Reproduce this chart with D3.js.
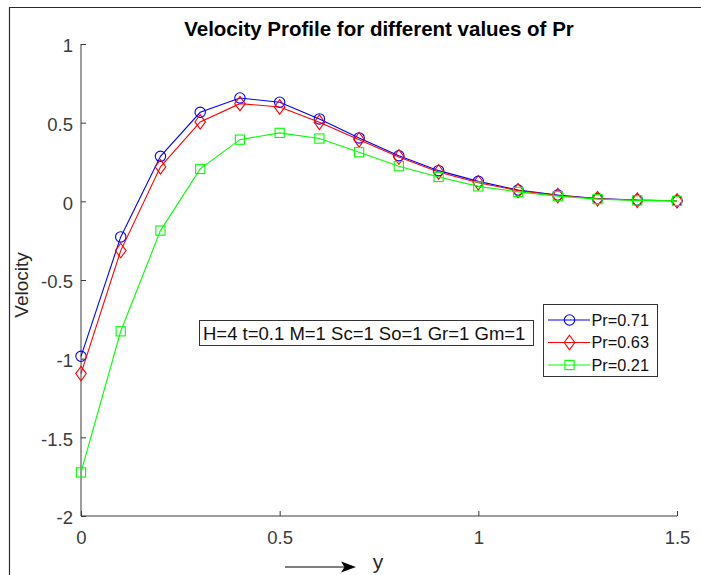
<!DOCTYPE html>
<html>
<head>
<meta charset="utf-8">
<script src="https://cdn.jsdelivr.net/npm/d3@7"></script>
<style>
  html, body { margin: 0; padding: 0; background: #fff; }
  svg { display: block; font-family: Arial, "Liberation Sans", Helvetica, sans-serif; }
</style>
</head>
<body>
<svg id="chart" width="701" height="575"></svg>
<script>
// Distance from the plate (y) at which the velocity is sampled
const yPos = [0, 0.1, 0.2, 0.3, 0.4, 0.5, 0.6, 0.7, 0.8, 0.9, 1.0, 1.1, 1.2, 1.3, 1.4, 1.5];

// Velocity for each Prandtl number
const velPr071 = [-0.985, -0.226, 0.286, 0.566, 0.657, 0.630, 0.524, 0.403, 0.290, 0.195, 0.127, 0.072, 0.040, 0.018, 0.008, 0.004];
const velPr063 = [-1.095, -0.313, 0.219, 0.505, 0.621, 0.600, 0.503, 0.392, 0.282, 0.187, 0.118, 0.068, 0.037, 0.016, 0.007, 0.003];
const velPr021 = [-1.723, -0.826, -0.186, 0.206, 0.392, 0.435, 0.399, 0.312, 0.223, 0.155, 0.095, 0.060, 0.033, 0.014, 0.006, 0.003];

const seriesNames = ["Pr=0.71", "Pr=0.63", "Pr=0.21"];
const xTicks = [0, 0.5, 1, 1.5];
const yTicks = [-2, -1.5, -1, -0.5, 0, 0.5, 1];
const titleText = "Velocity Profile for different values of Pr";
const paramText = "H=4 t=0.1 M=1 Sc=1 So=1 Gr=1 Gm=1";

const series = [
  { name: seriesNames[0], values: velPr071, color: "#0000ff", marker: "circle" },
  { name: seriesNames[1], values: velPr063, color: "#ff0000", marker: "diamond" },
  { name: seriesNames[2], values: velPr021, color: "#00ff00", marker: "square" }
];

const svg = d3.select("#chart");
const axisColor = "#3a3a3a";
const tickTextColor = "#3c3c3c";

// Outer figure frame (top and left edges visible)
svg.append("path")
  .attr("d", "M9.5,575 L9.5,7.5 L701,7.5")
  .attr("fill", "none").attr("stroke", "#2a2a2a").attr("stroke-width", 1.2);

const x = d3.scaleLinear().domain([0, 1.5]).range([81, 677]);
const y = d3.scaleLinear().domain([-2, 1]).range([516, 44]);

// Axes with inward ticks
const xAxis = d3.axisBottom(x).tickValues(xTicks).tickSize(-5).tickPadding(0)
  .tickFormat(d3.format("~g"));
const yAxis = d3.axisLeft(y).tickValues(yTicks).tickSize(-5).tickPadding(0)
  .tickFormat(d => d3.format("~g")(d).replace("−", "-"));

const gx = svg.append("g").attr("transform", `translate(0,${y(-2)})`).call(xAxis);
gx.select(".domain").attr("d", `M${x(0)},0H${x(1.5)}`);
gx.selectAll("line").attr("stroke", axisColor);
gx.select(".domain").attr("stroke", axisColor);
gx.selectAll("text").attr("font-size", 18.5).attr("fill", tickTextColor)
  .attr("font-family", "Arial, 'Liberation Sans', sans-serif")
  .attr("y", 28).attr("dy", 0);

const gy = svg.append("g").attr("transform", `translate(${x(0)},0)`).call(yAxis);
gy.select(".domain").attr("d", `M0,${y(1)}V${y(-2)}`).attr("stroke", axisColor);
gy.selectAll("line").attr("stroke", axisColor);
gy.selectAll("text").attr("font-size", 18.5).attr("fill", tickTextColor)
  .attr("font-family", "Arial, 'Liberation Sans', sans-serif")
  .attr("x", -8).attr("dy", "0.42em");

// Lines
const line = d3.line().x((d, i) => x(yPos[i])).y(d => y(d));
const plot = svg.append("g");

function drawMarker(g, type, cx, cy, color) {
  if (type === "circle") {
    g.append("circle").attr("cx", cx).attr("cy", cy).attr("r", 5.2)
      .attr("fill", "none").attr("stroke", color).attr("stroke-width", 1.1);
  } else if (type === "diamond") {
    g.append("path").attr("d", `M${cx},${cy - 7.3}L${cx + 5.3},${cy}L${cx},${cy + 7.3}L${cx - 5.3},${cy}Z`)
      .attr("fill", "none").attr("stroke", color).attr("stroke-width", 1.1);
  } else {
    g.append("rect").attr("x", cx - 4.6).attr("y", cy - 4.6).attr("width", 9.2).attr("height", 9.2)
      .attr("fill", "none").attr("stroke", color).attr("stroke-width", 1.1);
  }
}

series.forEach(s => {
  const g = plot.append("g");
  g.append("path").datum(s.values).attr("d", line)
    .attr("fill", "none").attr("stroke", s.color).attr("stroke-width", 1.1);
  s.values.forEach((v, i) => drawMarker(g, s.marker, x(yPos[i]), y(v), s.color));
});

// Title
svg.append("text").attr("x", 379).attr("y", 36).attr("text-anchor", "middle")
  .attr("font-size", 20.5).attr("font-weight", "bold").attr("fill", "#000")
  .text(titleText);

// Y label
svg.append("text").attr("transform", "translate(28,285) rotate(-90)")
  .attr("text-anchor", "middle").attr("font-size", 19).attr("fill", "#262626")
  .text("Velocity");

// X label with arrow
svg.append("text").attr("x", 378).attr("y", 569).attr("text-anchor", "middle")
  .attr("font-size", 21).attr("fill", "#262626").text("y");
svg.append("line").attr("x1", 285).attr("y1", 567).attr("x2", 346).attr("y2", 567)
  .attr("stroke", "#000").attr("stroke-width", 1.1);
svg.append("path").attr("d", "M356,567 L341,561.5 L344.5,567 L341,572.5 Z").attr("fill", "#000");

// Parameter annotation box
svg.append("rect").attr("x", 199.5).attr("y", 320.5).attr("width", 334).attr("height", 25)
  .attr("fill", "#fff").attr("stroke", "#333").attr("stroke-width", 1);
svg.append("text").attr("x", 203).attr("y", 339.5).attr("font-size", 18.5).attr("fill", "#111")
  .text(paramText);

// Legend
const lg = svg.append("g");
lg.append("rect").attr("x", 543.5).attr("y", 304.5).attr("width", 114).attr("height", 72)
  .attr("fill", "#fff").attr("stroke", "#333").attr("stroke-width", 1);
const legendRows = [320, 342.5, 365];
series.forEach((s, i) => {
  const cy = legendRows[i];
  lg.append("line").attr("x1", 548).attr("x2", 590).attr("y1", cy).attr("y2", cy)
    .attr("stroke", s.color).attr("stroke-width", 1.1);
  drawMarker(lg, s.marker, 569.5, cy, s.color);
  lg.append("text").attr("x", 591.5).attr("y", cy).attr("dy", "0.36em")
    .attr("font-size", 16.3).attr("fill", "#111").text(s.name);
});
</script>
</body>
</html>
